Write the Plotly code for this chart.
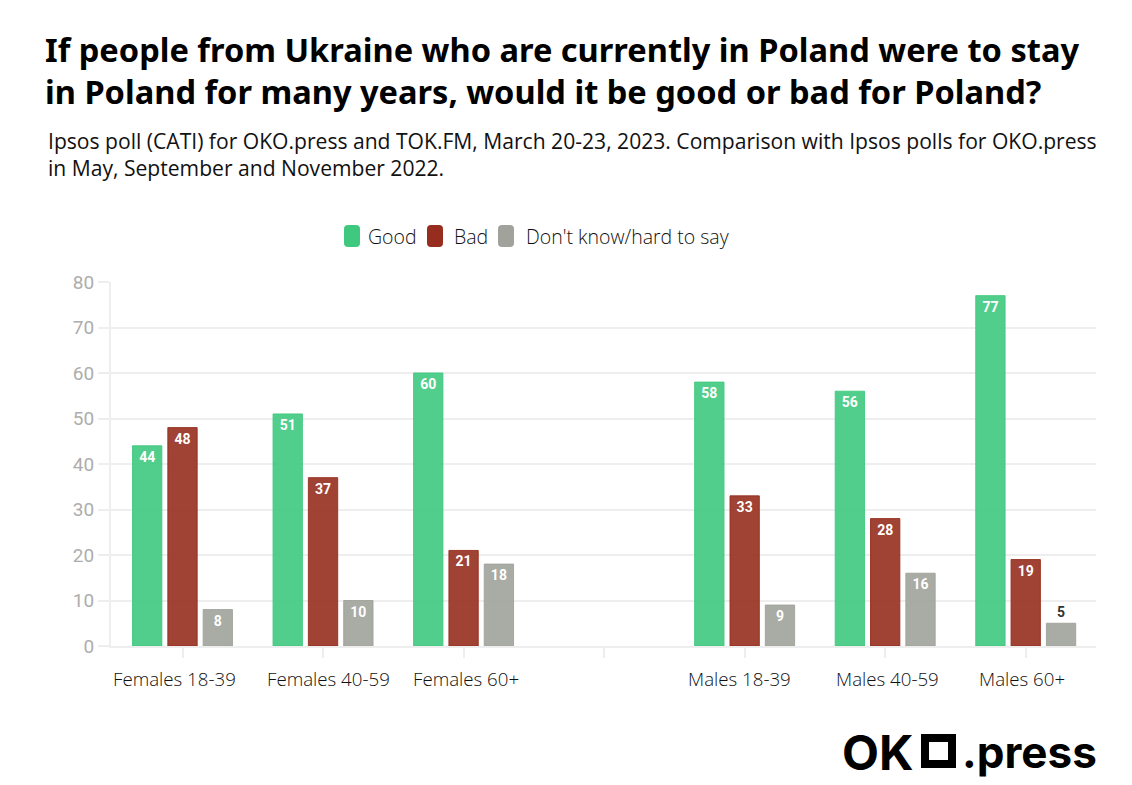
import plotly.graph_objects as go

categories = ["Females 18-39", "Females 40-59", "Females 60+", " ", "Males 18-39", "Males 40-59", "Males 60+"]
good = [44, 51, 60, None, 58, 56, 77]
bad = [48, 37, 21, None, 33, 28, 19]
dont_know = [8, 10, 18, None, 9, 16, 5]
y_ticks = [0, 10, 20, 30, 40, 50, 60, 70, 80]

title = ("If people from Ukraine who are currently in Poland were to stay<br>"
         "in Poland for many years, would it be good or bad for Poland?")
subtitle = ("Ipsos poll (CATI) for OKO.press and TOK.FM, March 20-23, 2023. Comparison with Ipsos polls for OKO.press<br>"
            "in May, September and November 2022.")

W, H = 1132, 785
L, R, T, B = 111, 36, 282, 139


# page pixels -> paper fractions of the plot area
def fx(x):
    return (x - L) / (W - L - R)


def fy(y):
    return (H - B - y) / (H - T - B)


def rounded(x0, y0, x1, y1, r):
    # corner radius r, in page pixels
    a0, a1, b0, b1 = fx(x0), fx(x1), fy(y0), fy(y1)
    rx, ry = r / (W - L - R), r / (H - T - B)
    return (f"M {a0 + rx} {b0} L {a1 - rx} {b0} Q {a1} {b0} {a1} {b0 - ry} "
            f"L {a1} {b1 + ry} Q {a1} {b1} {a1 - rx} {b1} "
            f"L {a0 + rx} {b1} Q {a0} {b1} {a0} {b1 + ry} "
            f"L {a0} {b0 - ry} Q {a0} {b0} {a0 + rx} {b0} Z")


fig = go.Figure()

series = [
    ("Good", good, "rgba(63,201,127,0.9)"),
    ("Bad", bad, "rgba(150,45,30,0.9)"),
    ("Don't know/hard to say", dont_know, "rgba(160,162,155,0.9)"),
]
for name, vals, col in series:
    # low bars can't hold the label, so it goes above them in dark
    pos = ["outside" if v is not None and v < 8 else "inside" for v in vals]
    fig.add_trace(go.Bar(
        name=name,
        x=categories,
        y=vals,
        marker=dict(color=col, line=dict(color=col, width=1)),
        texttemplate="<b>%{y}</b>",
        textposition=pos,
        insidetextanchor="end",
        textangle=0,
        insidetextfont=dict(family="Roboto", size=14, color="white"),
        outsidetextfont=dict(family="Roboto", size=14, color="#333333"),
        cliponaxis=False,
        showlegend=False,
    ))

fig.update_layout(
    width=W,
    height=H,
    margin=dict(l=L, r=R, t=T, b=B, pad=0),
    paper_bgcolor="white",
    plot_bgcolor="white",
    barmode="group",
    bargap=0.246,
    bargroupgap=0.17,
    title=dict(
        text="<b>" + title + "</b>",
        xref="container", yref="container",
        x=45 / W, xanchor="left",
        y=1 - 62 / H, yanchor="top",
        font=dict(family="Noto Sans", size=32.6, color="black"),
    ),
    xaxis=dict(
        type="category",
        categoryorder="array",
        categoryarray=categories,
        showgrid=False,
        showline=True, linecolor="#eeeeee", linewidth=2,
        ticks="outside", ticklen=10, tickcolor="#eeeeee", tickwidth=2,
        showticklabels=False,
        zeroline=False,
    ),
    yaxis=dict(
        range=[0, 80],
        tickvals=y_ticks,
        showgrid=True, gridcolor="#eeeeee", gridwidth=2,
        showline=True, linecolor="#eeeeee", linewidth=2,
        ticks="outside", ticklen=11, tickcolor="#eeeeee", tickwidth=2,
        tickfont=dict(family="Roboto", size=19, color="#adadad"),
        zeroline=False,
    ),
)

fig.add_annotation(
    text=subtitle, xref="paper", yref="paper", showarrow=False,
    x=fx(46), y=fy(124), xanchor="left", yanchor="top", align="left",
    font=dict(family="Open Sans", size=21.1, color="#111111"),
)

# x labels sit a bit off their ticks in the original
label_shift = [-8, 5, 2, 0, -5, 2, -4]
for cat, shift in zip(categories, label_shift):
    if cat.strip():
        fig.add_annotation(
            text=cat, x=cat, y=0, xref="x", yref="y", showarrow=False,
            xshift=shift, yshift=-32,
            font=dict(family="Open Sans", size=18.7, color="#111111", weight=300),
        )

# legend with rounded swatches
legend_items = [
    ("Good", "#3fc97f", 344, 366),
    ("Bad", "#962d1e", 427, 452),
    ("Don't know/hard to say", "#a0a29b", 498, 524),
]
for label, col, x0, xt in legend_items:
    fig.add_shape(
        type="path", xref="paper", yref="paper",
        path=rounded(x0, 225, x0 + 16, 247, 4),
        fillcolor=col, line=dict(width=0),
    )
    fig.add_annotation(
        text=label, xref="paper", yref="paper", showarrow=False,
        x=fx(xt), y=fy(236),
        xanchor="left", yanchor="middle",
        font=dict(family="Open Sans", size=19.5, color="#111111", weight=300),
    )

# logo
fig.add_annotation(
    text="<b>OK</b>", xref="paper", yref="paper", showarrow=False,
    x=fx(840), y=fy(752),
    xanchor="left", yanchor="middle",
    font=dict(family="Inter", size=48, color="black"),
)
fig.add_shape(
    type="rect", xref="paper", yref="paper",
    x0=fx(925), x1=fx(952), y0=fy(764), y1=fy(738),
    fillcolor="white", line=dict(color="black", width=8),
)
fig.add_annotation(
    text="<b>.press</b>", xref="paper", yref="paper", showarrow=False,
    x=fx(1099), y=fy(752),
    xanchor="right", yanchor="middle",
    font=dict(family="Inter", size=44, color="black"),
)

fig.write_html("out.html", config=dict(displayModeBar=False),
               post_script="document.body.style.margin='0';")
